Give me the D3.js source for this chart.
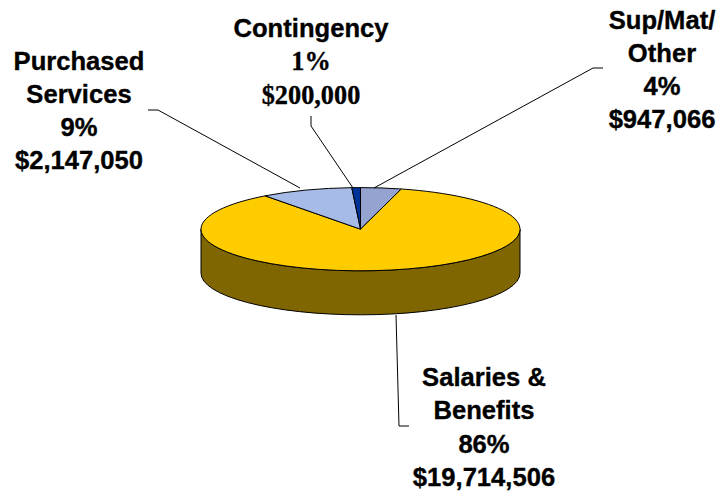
<!DOCTYPE html>
<html>
<head>
<meta charset="utf-8">
<script src="https://cdn.jsdelivr.net/npm/d3@7"></script>
<style>
html, body { margin: 0; padding: 0; background: #fff; }
svg { display: block; }
text { font-family: "Liberation Sans", Arial, sans-serif; font-weight: bold; font-size: 25.6px; fill: #000; stroke: #000; stroke-width: 0.35px; text-anchor: middle; }
text.serif { font-family: "Liberation Serif", "Times New Roman", serif; font-size: 26.3px; }
</style>
</head>
<body>
<svg id="chart" width="722" height="494"></svg>
<script>
// slices in drawing order, clockwise from 12 o'clock
var categories = ['Sup/Mat/Other', 'Salaries & Benefits', 'Purchased Services', 'Contingency'];
var amounts = [947066, 19714506, 2147050, 200000];
var colors = ['#95a3d1', '#ffcc00', '#a6bbe8', '#003399'];

// label text, one entry per line
var labelLines = [
    ['Sup/Mat/', 'Other', '4%', '$947,066'],
    ['Salaries &', 'Benefits', '86%', '$19,714,506'],
    ['Purchased', 'Services', '9%', '$2,147,050'],
    ['Contingency', '1%', '$200,000']
];
var labelX = [662, 484, 79, 311];
var labelY = [28.5, 386, 69.5, 37];
var lineStep = 33.3;

// leader lines
var leaders = [
    [[603, 68], [593, 68], [374, 188]],
    [[396, 315], [399, 426], [409, 426]],
    [[148, 110], [158, 110], [300, 188]],
    [[311, 116], [311, 126], [353, 188]]
];

var cx = 360.5, cy = 229.2, rx = 159.5, ry = 41.6, depth = 44;

var svg = d3.select('#chart');

// side wall of the disc, only the big slice shows at the front
svg.append('path')
    .attr('d', 'M' + (cx - rx) + ',' + cy +
        'A' + rx + ',' + ry + ' 0 0 0 ' + (cx + rx) + ',' + cy +
        'V' + (cy + depth) +
        'A' + rx + ',' + ry + ' 0 0 1 ' + (cx - rx) + ',' + (cy + depth) + 'Z')
    .attr('fill', '#806600')
    .attr('stroke', '#000')
    .attr('stroke-width', 1);

var pie = d3.pie().sort(null).value(function(d) { return d; });
var arc = d3.arc().innerRadius(0).outerRadius(rx);

// flat pie squashed into an ellipse
svg.append('g')
    .attr('transform', 'translate(' + cx + ',' + cy + ') scale(1,' + (ry / rx) + ')')
    .selectAll('path')
    .data(pie(amounts))
    .enter().append('path')
    .attr('d', arc)
    .attr('fill', function(d, i) { return colors[i]; })
    .attr('stroke', '#000')
    .attr('stroke-width', 1)
    .attr('vector-effect', 'non-scaling-stroke');

var line = d3.line();
svg.selectAll('path.leader')
    .data(leaders)
    .enter().append('path')
    .attr('class', 'leader')
    .attr('d', line)
    .attr('fill', 'none')
    .attr('stroke', '#000')
    .attr('stroke-width', 1);

labelLines.forEach(function(lines, i) {
    svg.selectAll('text.l' + i)
        .data(lines)
        .enter().append('text')
        .attr('class', function(d, j) {
            // the contingency figures are set in a serif face
            return 'l' + i + (i === 3 && j > 0 ? ' serif' : '');
        })
        .attr('x', labelX[i])
        .attr('y', function(d, j) { return labelY[i] + j * lineStep; })
        .text(function(d) { return d; });
});
</script>
</body>
</html>
